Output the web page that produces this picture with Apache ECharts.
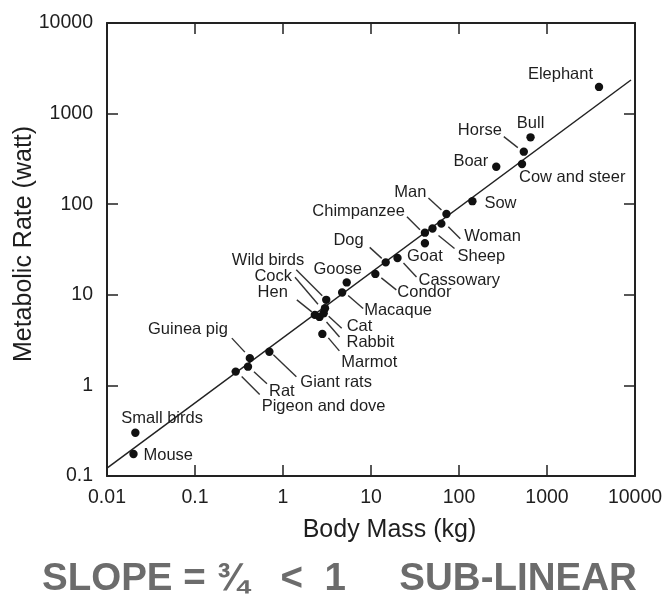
<!DOCTYPE html>
<html>
<head>
<meta charset="utf-8">
<script src="https://cdn.jsdelivr.net/npm/echarts@6/dist/echarts.min.js"></script>
<style>
  html, body { margin: 0; padding: 0; background: #fff; }
  #chart { width: 670px; height: 595px; }
</style>
</head>
<body>
<div id="chart"></div>
<script>
// values
const animals = ['Mouse', 'Small birds', 'Pigeon and dove', 'Rat', 'Guinea pig', 'Giant rats',
  'Marmot', 'Hen', 'Rabbit', 'Cat', 'Cock', 'Wild birds', 'Macaque', 'Goose', 'Condor', 'Dog',
  'Cassowary', 'Goat', 'Chimpanzee', 'Sheep', 'Woman', 'Man', 'Sow', 'Boar', 'Cow and steer',
  'Horse', 'Bull', 'Elephant']
const bodyMass = [0.02, 0.021, 0.29, 0.40, 0.42, 0.70, 2.8, 2.3, 2.6, 2.9, 3.0, 3.1, 4.7, 5.3,
  11.2, 14.7, 20, 41, 41, 50, 63, 72, 142, 265, 520, 545, 650, 3900]
const metabolicRate = [0.175, 0.30, 1.42, 1.61, 2.0, 2.35, 3.7, 6.0, 5.7, 6.25, 7.1, 8.8, 10.6,
  13.7, 17.0, 22.8, 25.5, 37, 48.5, 54, 61, 78, 108, 259, 278, 380, 547, 1970]
const fitMass = [0.01, 9000]
const fitRate = [0.122, 2350]
const xTickLabels = ['0.01', '0.1', '1', '10', '100', '1000', '10000']
const yTickLabels = ['0.1', '1', '10', '100', '1000', '10000']

// where each name sits, in pixels from its dot (dy = text middle); line = leader segment
const labelLayout = {
  'Elephant':        { align: 'right',  dx: -6,  dy: -12 },
  'Bull':            { align: 'center', dx: 0,   dy: -14 },
  'Horse':           { align: 'right',  dx: -22, dy: -21, line: [-20, -15, -6, -4] },
  'Boar':            { align: 'right',  dx: -8,  dy: -5 },
  'Cow and steer':   { align: 'left',   dx: -3,  dy: 13 },
  'Sow':             { align: 'left',   dx: 12,  dy: 2 },
  'Man':             { align: 'right',  dx: -20, dy: -22, line: [-18, -16, -5, -4] },
  'Chimpanzee':      { align: 'right',  dx: -20, dy: -21, line: [-18, -16, -5, -3] },
  'Woman':           { align: 'left',   dx: 23,  dy: 13,  line: [7, 3, 19, 15] },
  'Sheep':           { align: 'left',   dx: 25,  dy: 28,  line: [6, 7, 22, 20] },
  'Goat':            { align: 'center', dx: 0,   dy: 13 },
  'Dog':             { align: 'right',  dx: -22, dy: -22, line: [-16, -15, -4, -4] },
  'Cassowary':       { align: 'left',   dx: 21,  dy: 22,  line: [6, 5, 19, 19] },
  'Condor':          { align: 'left',   dx: 22,  dy: 19,  line: [6, 4, 21, 16] },
  'Goose':           { align: 'center', dx: -9,  dy: -13 },
  'Macaque':         { align: 'left',   dx: 22,  dy: 18,  line: [6, 3, 21, 16] },
  'Cat':             { align: 'left',   dx: 23,  dy: 13,  line: [5, 3, 18, 15] },
  'Rabbit':          { align: 'left',   dx: 27,  dy: 26,  line: [7, 5, 20, 20] },
  'Marmot':          { align: 'left',   dx: 19,  dy: 29,  line: [6, 4, 17, 17] },
  'Wild birds':      { align: 'right',  dx: -22, dy: -39, line: [-30, -30, -4, -4] },
  'Cock':            { align: 'right',  dx: -33, dy: -32, line: [-30, -31, -7, -4] },
  'Hen':             { align: 'right',  dx: -27, dy: -22, line: [-18, -15, -3, -3] },
  'Giant rats':      { align: 'left',   dx: 31,  dy: 31,  line: [4, 3, 27, 25] },
  'Guinea pig':      { align: 'right',  dx: -22, dy: -29, line: [-18, -20, -5, -6] },
  'Rat':             { align: 'left',   dx: 21,  dy: 25,  line: [6, 5, 19, 17] },
  'Pigeon and dove': { align: 'left',   dx: 26,  dy: 35,  line: [6, 5, 24, 23] },
  'Small birds':     { align: 'left',   dx: -14, dy: -14 },
  'Mouse':           { align: 'left',   dx: 10,  dy: 1 }
}

const fontFamily = '"Liberation Sans", Arial, sans-serif'
const labelFont = '16.5px ' + fontFamily
const ink = '#1e1e1e'

const chart = echarts.init(document.getElementById('chart'), null, { renderer: 'canvas' })

const renderAnimal = (params, api) => {
  const name = animals[params.dataIndex]
  const p = api.coord([api.value(0), api.value(1)])
  const L = labelLayout[name]
  const children = [{
    type: 'circle',
    shape: { cx: p[0], cy: p[1], r: 4.2 },
    style: { fill: '#111' }
  }]
  if (L.line) {
    children.push({
      type: 'line',
      shape: { x1: p[0] + L.line[0], y1: p[1] + L.line[1], x2: p[0] + L.line[2], y2: p[1] + L.line[3] },
      style: { stroke: '#333', lineWidth: 1.4 }
    })
  }
  children.push({
    type: 'text',
    style: {
      text: name,
      x: p[0] + L.dx,
      y: p[1] + L.dy,
      align: L.align,
      verticalAlign: 'middle',
      font: labelFont,
      fill: ink
    }
  })
  return { type: 'group', children }
}

const xLabel = (v) => xTickLabels[Math.round(Math.log10(v)) + 2] || ''
const yLabel = (v) => yTickLabels[Math.round(Math.log10(v)) + 1] || ''

const frame = { show: true, lineStyle: { color: '#222', width: 2 } }
const tickIn = { show: true, inside: true, length: 11, lineStyle: { color: '#222', width: 1.5 } }

const option = {
  animation: false,
  backgroundColor: '#fff',
  grid: { left: 107, right: 35, top: 23, bottom: 119, containLabel: false, outerBoundsMode: 'none' },
  xAxis: [{
    type: 'log',
    logBase: 10,
    min: 0.01,
    max: 10000,
    position: 'bottom',
    axisLine: frame,
    axisTick: tickIn,
    splitLine: { show: false },
    axisLabel: {
      formatter: xLabel,
      fontSize: 19.5,
      fontFamily: fontFamily,
      color: ink,
      margin: 12
    },
    name: 'Body Mass (kg)',
    nameLocation: 'middle',
    nameGap: 42,
    nameMoveOverlap: false,
    nameTextStyle: {
      fontSize: 25,
      fontFamily: fontFamily,
      color: ink,
      padding: [0, 0, 0, 37]
    }
  }, {
    type: 'log',
    logBase: 10,
    min: 0.01,
    max: 10000,
    position: 'top',
    axisLine: frame,
    axisTick: tickIn,
    axisLabel: { show: false },
    splitLine: { show: false }
  }],
  yAxis: [{
    type: 'log',
    logBase: 10,
    min: 0.1,
    max: 10000,
    position: 'left',
    axisLine: frame,
    axisTick: tickIn,
    splitLine: { show: false },
    axisLabel: {
      formatter: yLabel,
      fontSize: 19.5,
      fontFamily: fontFamily,
      color: ink,
      margin: 14
    },
    name: 'Metabolic Rate (watt)',
    nameLocation: 'middle',
    nameRotate: 90,
    nameGap: 70,
    nameMoveOverlap: false,
    nameTextStyle: {
      fontSize: 25,
      fontFamily: fontFamily,
      color: ink,
      padding: [0, 0, 0, 11]
    }
  }, {
    type: 'log',
    logBase: 10,
    min: 0.1,
    max: 10000,
    position: 'right',
    axisLine: frame,
    axisTick: tickIn,
    axisLabel: { show: false },
    splitLine: { show: false }
  }],
  graphic: [{
    type: 'text',
    x: 42,
    y: 579,
    style: {
      text: 'SLOPE = ¾   <  1     SUB-LINEAR',
      align: 'left',
      verticalAlign: 'middle',
      font: 'bold 38.5px ' + fontFamily,
      fill: '#6c6c6c'
    }
  }],
  series: [{
    name: 'fit',
    type: 'line',
    xAxisIndex: 0,
    yAxisIndex: 0,
    data: fitMass.map((m, i) => [m, fitRate[i]]),
    symbol: 'none',
    lineStyle: { color: '#222', width: 1.5 },
    z: 2
  }, {
    name: 'animals',
    type: 'custom',
    xAxisIndex: 0,
    yAxisIndex: 0,
    renderItem: renderAnimal,
    encode: { x: 0, y: 1 },
    data: bodyMass.map((m, i) => [m, metabolicRate[i]]),
    clip: false,
    z: 3
  }]
}

chart.setOption(option)
</script>
</body>
</html>
